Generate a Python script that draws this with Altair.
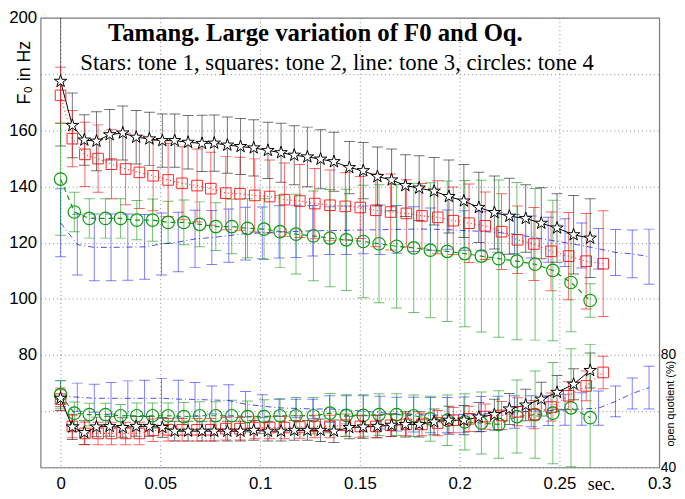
import altair as alt
import pandas as pd

TITLE = "Tamang. Large variation of F0 and Oq."
SUBTITLE = "Stars: tone 1, squares: tone 2, line: tone 3, circles: tone 4"
YLABEL = "F\u2080 in Hz"
Y2LABEL = "open quotient (%)"
XLABEL = "sec."
X_TICKS = [0, 0.05, 0.1, 0.15, 0.2, 0.25, 0.3]
Y_TICKS = [40, 60, 80, 100, 120, 140, 160, 180, 200]
Y2_TICKS = [40, 80]

# ---- tone 1 (stars) ----
t_tone1 = [0, 0.0059, 0.0119, 0.0180, 0.0246, 0.0312, 0.0379, 0.0445, 0.0510, 0.0572,
           0.0639, 0.0709, 0.0770, 0.0836, 0.0902, 0.0968, 0.1039, 0.1105, 0.1171, 0.1237,
           0.1303, 0.1370, 0.1447, 0.1517, 0.1588, 0.1659, 0.1728, 0.1797, 0.1872, 0.1946,
           0.2021, 0.2096, 0.2174, 0.2249, 0.2331, 0.2409, 0.2488, 0.2571, 0.2654]
f0_tone1 = [177.4, 161.7, 156.5, 156.1, 158.4, 159.0, 157.5, 156.9, 156.3, 156.3,
            155.7, 155.3, 155.4, 154.7, 154.2, 153.7, 152.8, 152.0, 151.1, 150.5,
            149.7, 148.8, 146.7, 145.6, 143.5, 142.3, 140.3, 139.4, 138.3, 136.4,
            134.8, 132.5, 130.7, 129.4, 128.6, 126.9, 125.2, 122.8, 121.6]
f0sd_tone1 = [23, 11.5, 9, 10.5, 9, 9.6, 9.5, 9.5, 9.5, 9.5,
              9.5, 10, 10, 10, 10, 10, 10, 10.5, 10.5, 10.6,
              10.5, 10.5, 9.3, 10, 10.5, 11, 11, 11.5, 12, 13,
              13, 12.5, 13, 13.5, 12, 12.6, 12.2, 14, 14]
oq_tone1 = [64.6, 54.4, 52.4, 54.4, 54.6, 54.2, 54.6, 54.6, 54.2, 52.9,
            52.9, 52.9, 52.9, 52.9, 52.9, 53.2, 52.9, 52.9, 53.2, 53.2,
            53.2, 52.9, 54.2, 54.4, 54.6, 55.0, 55.3, 55.3, 56.2, 56.8,
            56.8, 57.9, 58.8, 60.8, 62.2, 64.3, 66.7, 69.6, 74.5]
oqsd_tone1 = [3, 4.5, 4.2, 3.5, 3.5, 3.5, 3.5, 3.5, 3.5, 3.5,
              3.5, 3.5, 3.5, 3.5, 3.5, 3.5, 3.5, 3.5, 3.5, 3.5,
              4, 4, 4, 4, 4, 4, 4.5, 4.5, 4.6, 5,
              5.2, 5.2, 5.5, 5.5, 5.6, 6, 6, 5.5, 6.2]

# ---- tone 2 (squares) ----
t_tone2 = [0, 0.0059, 0.0122, 0.0188, 0.0255, 0.0326, 0.0395, 0.0464, 0.0539, 0.0609,
           0.0684, 0.0753, 0.0828, 0.0899, 0.0973, 0.1048, 0.1122, 0.1199, 0.1274, 0.1350,
           0.1427, 0.1502, 0.1580, 0.1654, 0.1733, 0.1811, 0.1890, 0.1968, 0.2047, 0.2128,
           0.2210, 0.2290, 0.2372, 0.2458, 0.2546, 0.2634, 0.2719]
f0_tone2 = [172.4, 157.0, 151.4, 149.9, 147.9, 146.2, 145.0, 143.8, 142.3, 141.1,
            140.3, 139.2, 137.6, 137.4, 136.8, 136.4, 135.3, 134.8, 133.9, 133.3,
            132.9, 132.5, 131.5, 130.9, 130.4, 129.5, 129.0, 127.8, 126.9, 126.0,
            123.9, 121.0, 119.5, 116.9, 115.2, 113.4, 112.5]
f0sd_tone2 = [10, 10, 11.4, 12, 12.3, 12.7, 12.9, 12.5, 13, 13,
              13, 13, 13, 13, 13, 13, 13, 13, 12.5, 12.5,
              12, 11, 13, 13.5, 12, 11.5, 13, 12, 14, 12,
              13.5, 12, 13, 14, 15.5, 17, 18.8]
oq_tone2 = [64.3, 54.6, 52.1, 52.1, 52.1, 52.1, 52.1, 53.2, 53.4, 53.4,
            53.4, 53.4, 53.8, 53.8, 54.2, 54.2, 54.2, 54.4, 54.6, 54.6,
            55.0, 54.6, 54.6, 55.0, 55.3, 55.3, 55.8, 56.8, 57.3, 58.1,
            58.5, 59.8, 58.8, 61.5, 65.5, 69.0, 73.8]
oqsd_tone2 = [4, 4, 4, 4, 4, 4, 4, 4, 4, 4,
              4, 4, 4, 4, 4, 4, 4, 4, 4, 4,
              4, 4, 4, 4, 4, 4, 4.5, 4.5, 4.5, 4.5,
              5, 5, 5, 5, 5, 5.3, 5.8]

# ---- tone 3 (line only) ----
t_tone3 = [0, 0.0084, 0.0169, 0.0253, 0.0337, 0.0421, 0.0506, 0.0590, 0.0674, 0.0758,
           0.0843, 0.0927, 0.1011, 0.1095, 0.1180, 0.1264, 0.1348, 0.1432, 0.1517, 0.1601,
           0.1685, 0.1769, 0.1854, 0.1938, 0.2022, 0.2107, 0.2191, 0.2275, 0.2359, 0.2444,
           0.2528, 0.2612, 0.2696, 0.2781, 0.2865, 0.2949]
f0_tone3 = [127.1, 119.3, 118.3, 118.3, 118.4, 118.5, 119.5, 120.2, 121.3, 121.8,
            122.5, 123.2, 123.5, 123.8, 124.0, 124.2, 124.3, 124.4, 124.5, 124.6,
            124.7, 124.8, 124.8, 124.6, 124.3, 124.0, 123.6, 123.0, 122.0, 121.0,
            120.0, 119.0, 117.8, 116.5, 116.0, 115.0]
f0sd_tone3 = [12.1, 10.8, 11.9, 11.9, 11.8, 11.5, 11.0, 10.6, 10.2, 9.6,
              9.5, 9.4, 9.2, 9.3, 9.3, 9.0, 8.5, 8.6, 8.5, 8.8,
              8.5, 8.0, 7.5, 7.0, 7.0, 7.0, 7.0, 7.0, 7.5, 8.0,
              8.5, 8.0, 7.2, 8.2, 8.5, 9.8]
oq_tone3 = [65.5, 65.0, 64.6, 64.6, 64.6, 64.6, 64.6, 64.3, 64.2, 64.0,
            63.8, 62.5, 61.8, 61.2, 61.0, 60.8, 60.8, 60.5, 60.0, 59.5,
            59.0, 58.8, 58.6, 58.6, 58.8, 59.0, 59.3, 59.7, 60.0, 60.2,
            60.5, 60.8, 61.1, 63.5, 66.3, 68.4]
oqsd_tone3 = [5.3, 5.0, 5.0, 5.6, 6.2, 6.4, 7.0, 6.7, 6.0, 5.0,
              5.6, 4.5, 4.1, 3.1, 3.3, 3.5, 4.7, 5.0, 5.5, 5.8,
              6.0, 6.2, 6.3, 6.3, 6.3, 6.2, 6.0, 5.8, 5.5, 5.3,
              5.5, 5.8, 6.1, 5.5, 5.5, 7.6]

# ---- tone 4 (circles) ----
t_tone4 = [0, 0.0069, 0.0144, 0.0225, 0.0301, 0.0382, 0.0461, 0.0539, 0.0618, 0.0697,
           0.0778, 0.0858, 0.0937, 0.1020, 0.1100, 0.1180, 0.1267, 0.1350, 0.1432, 0.1517,
           0.1596, 0.1684, 0.1770, 0.1853, 0.1938, 0.2026, 0.2109, 0.2196, 0.2287, 0.2378,
           0.2467, 0.2558, 0.2654]
f0_tone4 = [142.6, 130.9, 128.6, 128.6, 128.6, 128.0, 128.0, 127.2, 127.2, 126.5,
            125.7, 125.7, 125.1, 124.8, 123.9, 123.0, 122.4, 121.6, 121.0, 120.4,
            119.6, 118.7, 118.1, 117.3, 116.9, 116.1, 115.2, 114.3, 113.4, 112.3,
            110.1, 105.8, 99.4]
f0sd_tone4 = [20, 7, 7, 7, 7, 7, 7.5, 7.5, 8, 8,
              8.5, 9.7, 10.5, 10.8, 12.8, 14.2, 16, 17.3, 18, 20,
              21, 22, 23, 24, 25, 26, 27, 28, 28, 27,
              25, 17.5, 6]
oq_tone4 = [65.9, 59.3, 58.8, 58.8, 58.4, 58.4, 58.4, 58.4, 58.1, 58.4,
            58.4, 58.4, 58.1, 58.1, 58.4, 58.4, 58.4, 59.3, 58.5, 58.5,
            58.8, 58.8, 58.4, 57.3, 56.8, 56.2, 55.8, 55.3, 58.1, 58.8,
            59.3, 61.2, 57.7]
oqsd_tone4 = [5, 4, 4, 4, 4, 4.5, 4.5, 4.5, 5, 5,
              5, 5.5, 5.5, 6, 6, 6.5, 6.5, 7, 7.4, 7.4,
              7.4, 7.4, 7.4, 8, 9, 10, 11, 12, 13, 15.5,
              18, 21, 26]


def frame(t, f0, f0sd, oq, oqsd):
    return pd.DataFrame({"t": t, "f0": f0, "f0sd": f0sd, "oq": oq, "oqsd": oqsd})


df1 = frame(t_tone1, f0_tone1, f0sd_tone1, oq_tone1, oqsd_tone1)
df2 = frame(t_tone2, f0_tone2, f0sd_tone2, oq_tone2, oqsd_tone2)
df3 = frame(t_tone3, f0_tone3, f0sd_tone3, oq_tone3, oqsd_tone3)
df4 = frame(t_tone4, f0_tone4, f0sd_tone4, oq_tone4, oqsd_tone4)

SANS = "Liberation Sans"
SERIF = "Liberation Serif"
GRID = dict(grid=True, gridColor="#8c8c8c", gridDash=[1, 3], gridWidth=1)

xscale = alt.Scale(domain=[-0.01, 0.3], nice=False, zero=False)
xaxis = alt.Axis(values=X_TICKS, format="~g", ticks=False, domain=False,
                 labelFont=SANS, labelFontSize=17, labelColor="black", labelPadding=8,
                 labelFlush=False, labelOverlap=False,
                 title=XLABEL, titleFont=SERIF, titleFontSize=18, titleFontWeight="normal",
                 titleColor="black", titleX=567, titleY=8, titleBaseline="top",
                 titleAlign="center", **GRID)
X = alt.X("t:Q", scale=xscale, axis=xaxis)

yscale_f0 = alt.Scale(domain=[40, 200], nice=False, zero=False)
yaxis_f0 = alt.Axis(orient="left", values=Y_TICKS,
                    labelExpr="(datum.value == 40 || datum.value == 60 || datum.value == 180) ? '' : datum.label",
                    ticks=False, domain=False, labelFont=SANS, labelFontSize=17,
                    labelColor="black", labelPadding=4, labelFlush=False, labelOverlap=False,
                    title=YLABEL, titleFont=SANS, titleFontSize=18, titleFontWeight="normal",
                    titleColor="black", titleAngle=270, titleX=-16, titleY=55,
                    titleAlign="center", titleBaseline="middle", **GRID)

yscale_oq = alt.Scale(domain=[40, 200], nice=False, zero=False)
yaxis_oq = alt.Axis(orient="right", values=Y2_TICKS, grid=False, ticks=False, domain=False,
                    labelFont=SANS, labelFontSize=14, labelColor="black", labelPadding=1,
                    labelFlush=False, labelOverlap=False,
                    title=Y2LABEL, titleFont=SANS, titleFontSize=11, titleFontWeight="normal",
                    titleColor="black", titleAngle=270, titleX=11, titleY=390,
                    titleAlign="center", titleBaseline="middle")

STAR = ("M0,-1L0.2245,-0.309L0.9511,-0.309L0.3633,0.118L0.5878,0.809L0,0.382"
        "L-0.5878,0.809L-0.3633,0.118L-0.9511,-0.309L-0.2245,-0.309Z")

BLACK = "#000000"
RED = "#ff0000"
BLUE = "#0000ff"
GREEN = "#0f9a0f"


def errorbars(df, val, sd, color, opacity, yscale, yaxis):
    base = alt.Chart(df).transform_calculate(
        lo=f"datum.{val} - datum.{sd}", hi=f"datum.{val} + datum.{sd}")
    rule = base.mark_rule(color=color, opacity=opacity, strokeWidth=1, clip=True).encode(
        x=X, y=alt.Y("lo:Q", scale=yscale, axis=yaxis), y2="hi:Q")
    lo = base.mark_tick(color=color, opacity=opacity, thickness=1, size=11,
                        orient="horizontal", clip=True).encode(
        x=X, y=alt.Y("lo:Q", scale=yscale, axis=yaxis))
    hi = base.mark_tick(color=color, opacity=opacity, thickness=1, size=11,
                        orient="horizontal", clip=True).encode(
        x=X, y=alt.Y("hi:Q", scale=yscale, axis=yaxis))
    return [rule, lo, hi]


def panel(val, sd, yscale, yaxis, extra=()):
    Y = alt.Y(f"{val}:Q", scale=yscale, axis=yaxis)
    layers = []
    layers += errorbars(df3, val, sd, BLUE, 0.5, yscale, yaxis)
    layers += errorbars(df1, val, sd, BLACK, 0.55, yscale, yaxis)
    layers += errorbars(df2, val, sd, RED, 0.6, yscale, yaxis)
    layers += errorbars(df4, val, sd, GREEN, 0.6, yscale, yaxis)
    layers.append(alt.Chart(df3).mark_line(color=BLUE, strokeWidth=1, opacity=0.7,
                                           strokeDash=[6, 3, 1, 3], clip=True).encode(x=X, y=Y))
    layers.append(alt.Chart(df4).mark_line(color=GREEN, strokeWidth=1.2,
                                           strokeDash=[5, 4], clip=True).encode(x=X, y=Y))
    layers.append(alt.Chart(df2).mark_line(color=RED, strokeWidth=1.2, opacity=0.8,
                                           strokeDash=[1, 3], clip=True).encode(x=X, y=Y))
    layers.append(alt.Chart(df1).mark_line(color=BLACK, strokeWidth=1, clip=True).encode(x=X, y=Y))
    layers.append(alt.Chart(df4).mark_point(shape="circle", size=160, filled=False,
                                            color=GREEN, strokeWidth=1.2, opacity=1).encode(x=X, y=Y))
    layers.append(alt.Chart(df2).mark_point(shape="square", size=115, filled=False,
                                            color=RED, strokeWidth=1, opacity=0.85).encode(x=X, y=Y))
    layers.append(alt.Chart(df1).mark_point(shape=STAR, size=175, filled=True, fill="white",
                                            stroke="black", strokeWidth=1, opacity=1).encode(x=X, y=Y))
    layers += list(extra)
    return alt.layer(*layers)


texts = pd.DataFrame({"title": [TITLE], "subtitle": [SUBTITLE]})
title_mark = alt.Chart(texts).mark_text(font=SERIF, fontSize=25, fontWeight="bold",
                                        align="center", baseline="alphabetic", color="black").encode(
    x=alt.X(datum=0.1277, type="quantitative", scale=xscale, axis=xaxis),
    y=alt.Y(datum=191.8, type="quantitative", scale=yscale_f0, axis=yaxis_f0),
    text="title:N")
subtitle_mark = alt.Chart(texts).mark_text(font=SERIF, fontSize=23, fontWeight="normal",
                                           align="center", baseline="alphabetic", color="black").encode(
    x=alt.X(datum=0.1386, type="quantitative", scale=xscale, axis=xaxis),
    y=alt.Y(datum=181.3, type="quantitative", scale=yscale_f0, axis=yaxis_f0),
    text="subtitle:N")

f0_panel = panel("f0", "f0sd", yscale_f0, yaxis_f0, extra=(title_mark, subtitle_mark))
oq_panel = panel("oq", "oqsd", yscale_oq, yaxis_oq)

chart = alt.layer(f0_panel, oq_panel).resolve_scale(y="independent").properties(
    width=626, height=455,
    autosize=alt.AutoSizeParams(type="none"),
    padding={"left": 33, "top": 7, "right": 18, "bottom": 27},
    background="white",
).configure_view(stroke="#7a7a7a", strokeWidth=1.2)

chart.save("out.html", embed_options={"renderer": "svg", "actions": False})
